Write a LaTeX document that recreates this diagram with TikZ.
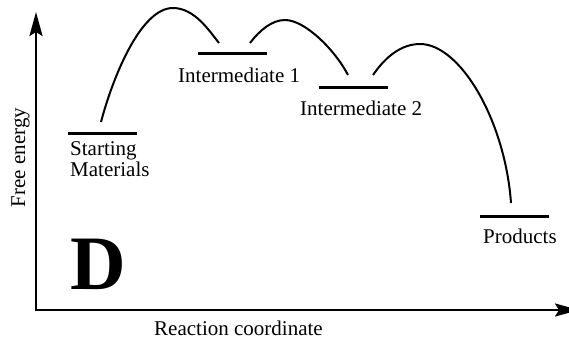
\documentclass[tikz,border=0pt]{standalone}
\usepackage{fontspec}
\setmainfont{Liberation Serif}
\usetikzlibrary{arrows.meta}
\begin{document}
\begin{tikzpicture}[x=1pt,y=-1pt,
  axis/.style={line width=2.3pt,-{Stealth[length=24pt,width=13pt,inset=4pt]}},
  level/.style={line width=3pt},
  barrier/.style={line width=2pt},
  lbl/.style={anchor=base west,inner sep=0pt,font=\fontsize{21}{23}\selectfont}]
\useasboundingbox (0,0) rectangle (569,341);
\clip (0,0) rectangle (569,341);
% axes
\coordinate (origin) at (36,310);
\coordinate (ytip) at (36,12);
\coordinate (xtip) at (579,310);
\draw[axis] (36,311.2) -- (ytip);
\draw[axis] (34.85,310) -- (xtip);
% energy levels
\coordinate (smL) at (68,133);  \coordinate (smR) at (137,133);
\coordinate (i1L) at (198,53);  \coordinate (i1R) at (267,53);
\coordinate (i2L) at (319,87);  \coordinate (i2R) at (388,87);
\coordinate (prL) at (480,216); \coordinate (prR) at (549,216);
\draw[level] (smL) -- (smR);
\draw[level] (i1L) -- (i1R);
\draw[level] (i2L) -- (i2R);
\draw[level] (prL) -- (prR);
% barriers
\coordinate (b1s) at (101,122); \coordinate (b1p) at (173,8);  \coordinate (b1e) at (219,43);
\coordinate (b2s) at (250,43);  \coordinate (b2p) at (285,20); \coordinate (b2e) at (348,75);
\coordinate (b3s) at (373,75);  \coordinate (b3p) at (420,44); \coordinate (b3e) at (511,203);
\draw[barrier] (b1s) .. controls (112,80) and (140,8) .. (b1p)
               .. controls (195,8) and (210,32) .. (b1e);
\draw[barrier] (b2s) .. controls (260,30) and (272,20) .. (b2p)
               .. controls (305,20) and (335,50) .. (b2e);
\draw[barrier] (b3s) .. controls (386,56) and (402,44) .. (b3p)
               .. controls (460,44) and (505,120) .. (b3e);
% labels
\node[lbl] (sm1) at (70,155) {Starting};
\node[lbl] (sm2) at (70,176) {Materials};
\node[lbl] (i1) at (178,82) {Intermediate 1};
\node[lbl] (i2) at (300,115) {Intermediate 2};
\node[lbl] (pr) at (483,243) {Products};
\node[lbl] (xl) at (154,335) {Reaction coordinate};
\node[rotate=90,anchor=base,inner sep=0pt,font=\fontsize{21}{23}\selectfont] (yl) at (25,157.5) {Free energy};
\node[anchor=base west,inner sep=0pt,font=\fontsize{77}{80}\selectfont\bfseries] (D) at (70,289) {D};
\end{tikzpicture}
\end{document}
